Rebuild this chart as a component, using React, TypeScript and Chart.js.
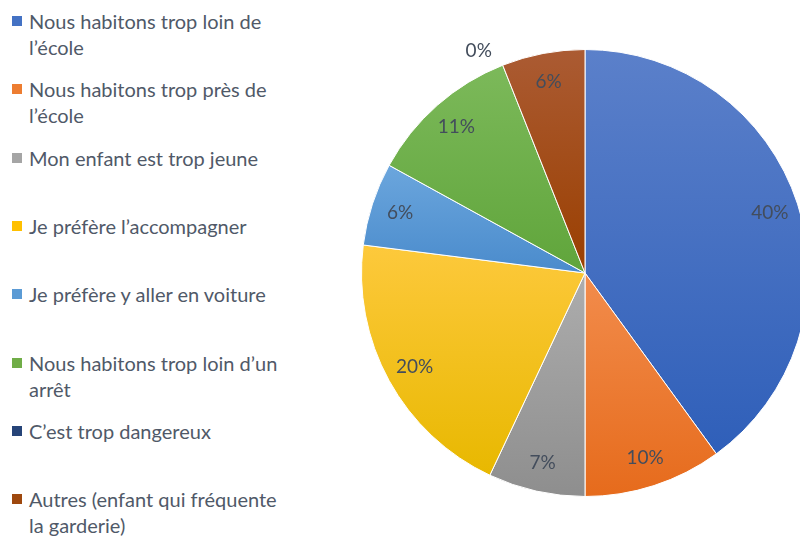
import React, { useEffect, useRef } from "react";
import { Chart, registerables } from "chart.js";

Chart.register(...registerables);

const categories = [
  "Nous habitons trop loin de\nl’école",
  "Nous habitons trop près de\nl’école",
  "Mon enfant est trop jeune",
  "Je préfère l’accompagner",
  "Je préfère y aller en voiture",
  "Nous habitons trop loin d’un\narrêt",
  "C’est trop dangereux",
  "Autres (enfant qui fréquente\nla garderie)",
];
const values = [40, 10, 7, 20, 6, 11, 0, 6];
const baseColors = ["#4472C4", "#ED7D31", "#A5A5A5", "#FFC000", "#5B9BD5", "#70AD47", "#264478", "#9E480E"];
const topColors = ["#5b80ca", "#f28c4c", "#adadad", "#fdc93c", "#6ba6dd", "#7cb95a", "#34538a", "#ab5b33"];
const bottomColors = ["#2f5fb9", "#e66b1c", "#8e8e8e", "#e8b800", "#4a8bcc", "#60a53b", "#1c3563", "#9a3f00"];

const LEGEND_TOP = 21;
const LEGEND_STEP = 68.3;

const gradientPlugin = {
  id: "sliceGradient",
  beforeDatasetsDraw(chart: any) {
    const ctx = chart.ctx;
    const meta = chart.getDatasetMeta(0);
    meta.data.forEach((arc: any, i: number) => {
      const { x, y, startAngle, endAngle, outerRadius } = arc;
      const ys = [y, y + Math.sin(startAngle) * outerRadius, y + Math.sin(endAngle) * outerRadius];
      for (let k = -4; k <= 8; k++) {
        const a = (k * Math.PI) / 2;
        if (a > startAngle && a < endAngle) ys.push(y + Math.sin(a) * outerRadius);
      }
      const top = Math.min(...ys);
      let bottom = Math.max(...ys);
      if (bottom - top < 1) bottom = top + 1;
      const g = ctx.createLinearGradient(0, top, 0, bottom);
      g.addColorStop(0, topColors[i]);
      g.addColorStop(1, bottomColors[i]);
      arc.options.backgroundColor = g;
    });
  },
};

const labelPlugin = {
  id: "sliceLabels",
  afterDatasetsDraw(chart: any) {
    const ctx = chart.ctx;
    const meta = chart.getDatasetMeta(0);
    const total = values.reduce((a, b) => a + b, 0);
    ctx.save();
    ctx.font = "19px Lato";
    ctx.fillStyle = "#434d5c";
    ctx.textAlign = "center";
    ctx.textBaseline = "middle";
    meta.data.forEach((arc: any, i: number) => {
      const { x, y, startAngle, endAngle, outerRadius } = arc;
      let mid = (startAngle + endAngle) / 2;
      let r = outerRadius * 0.87;
      if (values[i] === 0) {
        r = outerRadius * 1.1;
        mid -= 0.07;
      }
      const pct = Math.round((values[i] / total) * 100) + "%";
      ctx.fillText(pct, x + Math.cos(mid) * r, y + Math.sin(mid) * r);
    });
    ctx.restore();
  },
};

export default function App() {
  const canvasRef = useRef<HTMLCanvasElement | null>(null);

  useEffect(() => {
    if (!canvasRef.current) return;
    const chart = new Chart(canvasRef.current, {
      type: "pie",
      data: {
        labels: categories.map((c) => c.replace("\n", " ")),
        datasets: [
          {
            data: values,
            backgroundColor: (c: any) => baseColors[c.dataIndex],
            borderColor: "#ffffff",
            borderWidth: 1,
          },
        ],
      },
      options: {
        responsive: false,
        animation: false,
        layout: { padding: { left: 61, right: 61, top: 49, bottom: 39 } },
        plugins: {
          legend: { display: false },
          tooltip: { enabled: false },
        },
      },
      plugins: [gradientPlugin, labelPlugin],
    });
    return () => chart.destroy();
  }, []);

  return (
    <div
      style={{
        position: "fixed",
        left: 0,
        top: 0,
        width: 800,
        height: 536,
        overflow: "hidden",
        background: "#ffffff",
        fontFamily: "Lato, sans-serif",
      }}
    >
      {categories.map((c, i) => (
        <div
          key={i}
          style={{
            position: "absolute",
            left: 12,
            top: LEGEND_TOP + LEGEND_STEP * i - 13,
            display: "flex",
            alignItems: "flex-start",
          }}
        >
          <div
            style={{
              width: 10,
              height: 10,
              marginTop: 8,
              background: baseColors[i],
              flex: "none",
            }}
          />
          <div
            style={{
              marginLeft: 7,
              whiteSpace: "pre",
              fontSize: 20,
              lineHeight: "26px",
              color: "#505968",
            }}
          >
            {c}
          </div>
        </div>
      ))}
      <canvas
        ref={canvasRef}
        width={570}
        height={536}
        style={{ position: "absolute", left: 300, top: 0, width: 570, height: 536 }}
      />
    </div>
  );
}
